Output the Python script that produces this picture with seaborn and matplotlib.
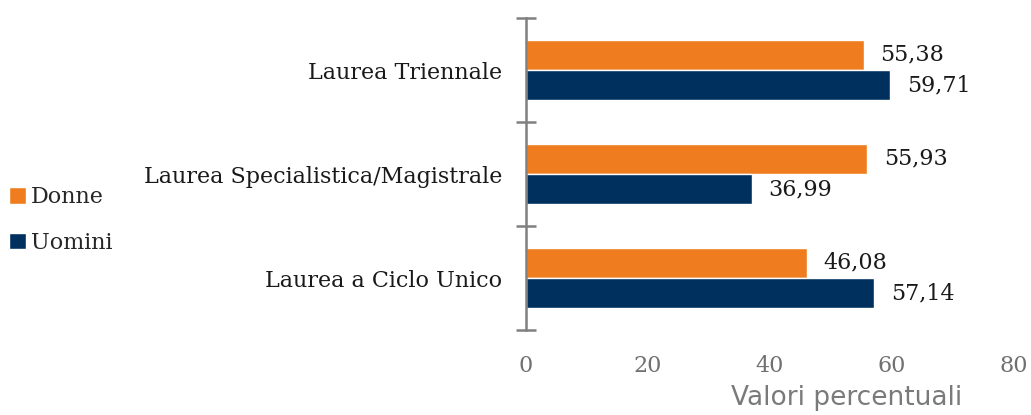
import pandas as pd
import matplotlib.pyplot as plt
import seaborn as sns

categories = ["Laurea Triennale", "Laurea Specialistica/Magistrale", "Laurea a Ciclo Unico"]
donne = [55.38, 55.93, 46.08]
uomini = [59.71, 36.99, 57.14]
series = ["Donne", "Uomini"]
colors = {"Donne": "#EF7D1F", "Uomini": "#00305E"}
x_ticks = [0, 20, 40, 60, 80]

df = pd.DataFrame({
    "categoria": categories * 2,
    "sesso": ["Donne"] * 3 + ["Uomini"] * 3,
    "valore": donne + uomini,
})

sns.set_theme(style="white")
plt.rcParams['font.family'] = ['DejaVu Serif']

fig = plt.figure(figsize=(10.31, 4.15), dpi=100)
ax = fig.add_axes([0.510, 0.2048, 0.4735, 0.7518])

sns.barplot(data=df, y="categoria", x="valore", hue="sesso", order=categories,
            hue_order=series, palette=colors, orient="h", width=0.58,
            saturation=1, ax=ax, legend=True)

# value labels with comma decimals
for cont in ax.containers:
    labels = [f"{v:.2f}".replace(".", ",") for v in cont.datavalues]
    ax.bar_label(cont, labels=labels, padding=12, fontsize=16, color="#1a1a1a")

ax.set_xlim(0, 80)
ax.set_ylim(2.5, -0.5)
ax.set_xticks(x_ticks)
ax.set_xticklabels([str(t) for t in x_ticks])
ax.tick_params(axis="x", length=0, pad=18, labelsize=16, labelcolor="#707070")

# y axis: tick labels at centers, tick marks at boundaries
ax.set_yticks([-0.5, 0.5, 1.5, 2.5], minor=True)
ax.tick_params(axis="y", which="major", left=False, length=0, pad=17, labelsize=16, labelcolor="#1a1a1a")
ax.tick_params(axis="y", which="minor", left=True, direction="inout", length=15, width=1.8, color="#808080")

for s in ["top", "right", "bottom"]:
    ax.spines[s].set_visible(False)
ax.spines["left"].set_color("#808080")
ax.spines["left"].set_linewidth(1.8)

ax.set_ylabel("")
ax.set_xlabel("Valori percentuali", fontsize=19, color="#7a7a7a",
              family=["DejaVu Sans"])
ax.xaxis.set_label_coords(0.658, -0.175)

handles, labels = ax.get_legend_handles_labels()
ax.legend_.remove()
fig.legend(handles, labels, loc="center left", bbox_to_anchor=(0.0, 0.47),
           frameon=False, fontsize=16, handlelength=0.75, handleheight=0.75,
           handletextpad=0.25, labelspacing=1.05, borderaxespad=0)

fig.savefig("out.png", dpi=100)
